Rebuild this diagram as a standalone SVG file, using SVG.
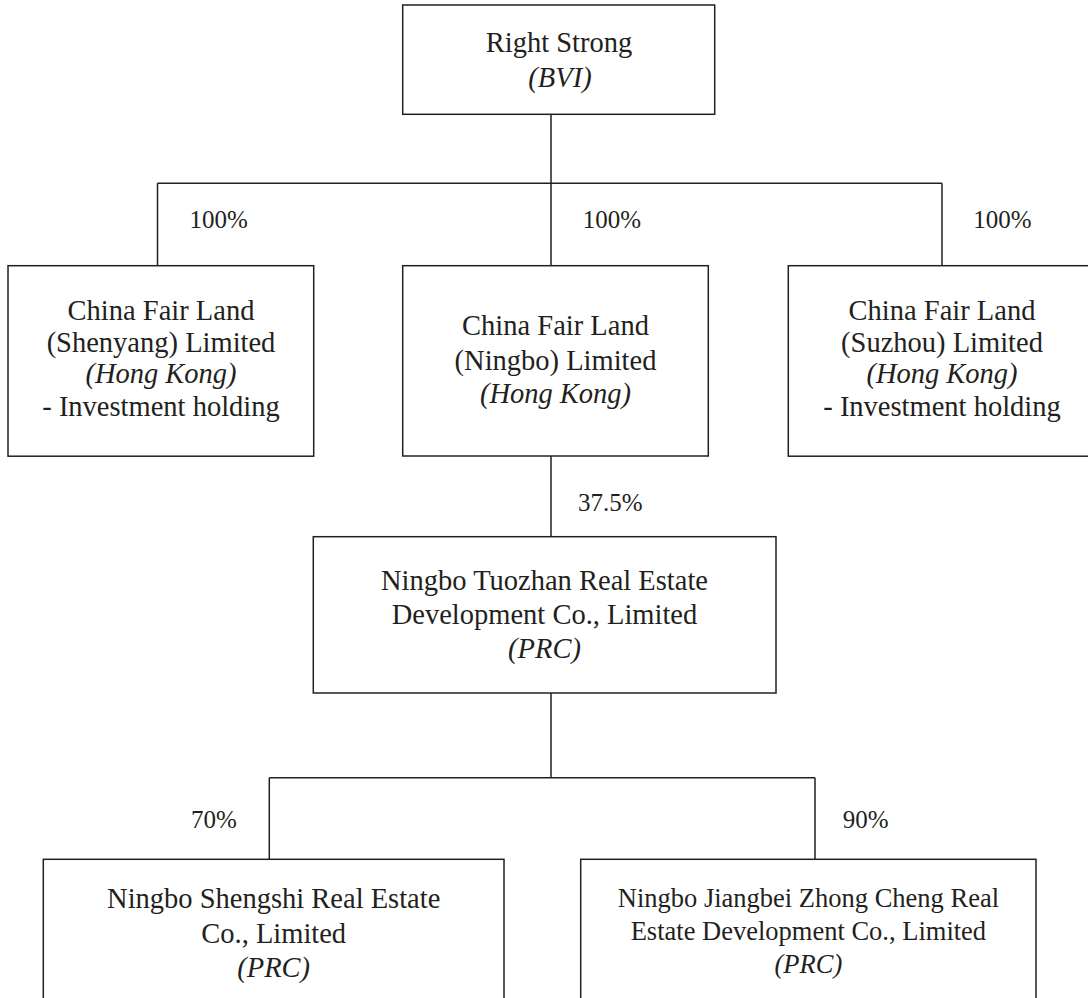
<svg xmlns="http://www.w3.org/2000/svg" width="1088" height="998" viewBox="0 0 1088 998">
<style>
.box{fill:#fff;stroke:#231f20;stroke-width:1.5}
.ln{fill:none;stroke:#231f20;stroke-width:1.5}
text{font-family:"Liberation Serif","Times New Roman",serif;fill:#231f20}
.t{font-size:28.5px;text-anchor:middle}
.s{font-size:26.5px;text-anchor:middle}
.i{font-style:italic}
.p{font-size:25px}
</style>
<rect width="1088" height="998" fill="#fff"/>
<g id="connectors">
<path class="ln" d="M551 114.3V183.3M157.5 183.3H942M157.5 183.3V265.7M551 183.3V265.7M942 183.3V265.7"/>
<path class="ln" d="M551 456V536.7"/>
<path class="ln" d="M551 693V777.7M269.3 777.7H815M269.3 777.7V859.3M815 777.7V859.3"/>
<text class="p" x="189.5" y="227.5">100%</text>
<text class="p" x="582.7" y="228">100%</text>
<text class="p" x="973.3" y="227.5">100%</text>
<text class="p" x="578" y="510.7">37.5%</text>
<text class="p" x="191" y="828.3">70%</text>
<text class="p" x="842.7" y="828">90%</text>
</g>
<g id="right-strong">
<rect class="box" x="402.7" y="5" width="312" height="109.3"/>
<text class="t" x="559" y="52">Right Strong</text>
<text class="t i" x="560" y="87">(BVI)</text>
</g>
<g id="cfl-shenyang">
<rect class="box" x="8" y="265.7" width="305.7" height="190.5"/>
<text class="t" x="161" y="320">China Fair Land</text>
<text class="t" x="161" y="351.7">(Shenyang) Limited</text>
<text class="t i" x="161" y="383.3">(Hong Kong)</text>
<text class="t" x="161" y="415.7">- Investment holding</text>
</g>
<g id="cfl-ningbo">
<rect class="box" x="402.7" y="265.7" width="305.6" height="190.3"/>
<text class="t" x="555.5" y="335">China Fair Land</text>
<text class="t" x="555.5" y="370">(Ningbo) Limited</text>
<text class="t i" x="555.5" y="403.3">(Hong Kong)</text>
</g>
<g id="cfl-suzhou">
<rect class="box" x="788.3" y="265.7" width="307.4" height="190.5"/>
<text class="t" x="942" y="320">China Fair Land</text>
<text class="t" x="942" y="351.7">(Suzhou) Limited</text>
<text class="t i" x="942" y="383.3">(Hong Kong)</text>
<text class="t" x="942" y="415.7">- Investment holding</text>
</g>
<g id="tuozhan">
<rect class="box" x="313.3" y="536.7" width="462.7" height="156.3"/>
<text class="t" x="544.5" y="590">Ningbo Tuozhan Real Estate</text>
<text class="t" x="544.5" y="624.3">Development Co., Limited</text>
<text class="t i" x="544.5" y="658">(PRC)</text>
</g>
<g id="shengshi">
<rect class="box" x="43.3" y="859.3" width="460.7" height="160"/>
<text class="t" x="273.7" y="908.3">Ningbo Shengshi Real Estate</text>
<text class="t" x="273.7" y="943.3">Co., Limited</text>
<text class="t i" x="273.7" y="976.7">(PRC)</text>
</g>
<g id="jiangbei">
<rect class="box" x="580.7" y="859.3" width="455.3" height="160"/>
<text class="s" x="808.4" y="906.7">Ningbo Jiangbei Zhong Cheng Real</text>
<text class="s" x="808.4" y="940">Estate Development Co., Limited</text>
<text class="s i" x="808.4" y="973">(PRC)</text>
</g>
</svg>
